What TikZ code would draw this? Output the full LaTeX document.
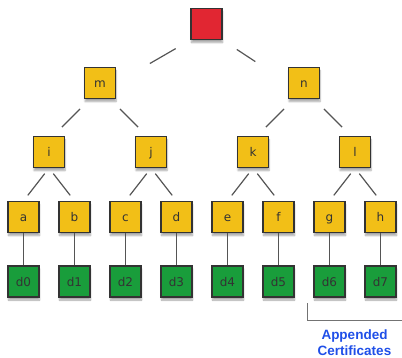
\documentclass[tikz,border=0pt]{standalone}
\usepackage{fontspec}
\newfontfamily\boxfont{DejaVu Sans}
\newfontfamily\notefont{Liberation Sans}
\usepackage{tikz}
\usetikzlibrary{shadows.blur,calc}

\definecolor{hashyellow}{HTML}{F2BF17}
\definecolor{rootred}{HTML}{E12632}
\definecolor{datagreen}{HTML}{199D3B}
\definecolor{edgegray}{HTML}{555555}
\definecolor{noteblue}{HTML}{1F4FE8}

\begin{document}
\begin{tikzpicture}[x=1pt,y=-1pt,
  box/.style={draw=black!80,line width=1.2pt,minimum size=31pt,inner sep=0pt,
    font=\boxfont\fontsize{12}{14}\selectfont,text=black!80,
    text height=11pt,text depth=2pt,
    blur shadow={shadow xshift=0.5pt,shadow yshift=-3pt,shadow blur steps=6,shadow opacity=35}},
  hashbox/.style={box,fill=hashyellow},
  rootbox/.style={box,fill=rootred},
  databox/.style={box,fill=datagreen},
  link/.style={draw=edgegray,line width=1.2pt},
  topedge/.style={link,shorten <=17pt,shorten >=39pt},
  midedge/.style={link,shorten <=14pt,shorten >=12.5pt},
  lowedge/.style={link,shorten <=7pt,shorten >=7pt},
  note/.style={align=center,inner sep=0pt,text=noteblue,
    font=\notefont\bfseries\fontsize{13.5}{15.2}\selectfont}]

\useasboundingbox (0,0) rectangle (402,357);

% Root
\node[rootbox] (top) at (206.5,24) {};

% Level 1
\node[hashbox] (m) at (100,83) {m};
\node[hashbox] (n) at (304,83) {n};

% Level 2
\node[hashbox] (i) at (49,152) {i};
\node[hashbox] (j) at (151,152) {j};
\node[hashbox] (k) at (253,152) {k};
\node[hashbox] (l) at (355,152) {l};

% Leaf hashes
\node[hashbox] (a) at (23.5,217) {a};
\node[hashbox] (b) at (74.5,217) {b};
\node[hashbox] (c) at (125.5,217) {c};
\node[hashbox] (d) at (176.5,217) {d};
\node[hashbox] (e) at (227.5,217) {e};
\node[hashbox] (f) at (278.5,217) {f};
\node[hashbox] (g) at (329.5,217) {g};
\node[hashbox] (h) at (380.5,217) {h};

% Data blocks
\node[databox] (d0) at (23.5,281.5) {d0};
\node[databox] (d1) at (74.5,281.5) {d1};
\node[databox] (d2) at (125.5,281.5) {d2};
\node[databox] (d3) at (176.5,281.5) {d3};
\node[databox] (d4) at (227.5,281.5) {d4};
\node[databox] (d5) at (278.5,281.5) {d5};
\node[databox] (d6) at (329.5,281.5) {d6};
\node[databox] (d7) at (380.5,281.5) {d7};

% Tree edges
\draw[topedge] (top.south west) -- (m.east);
\draw[topedge] (top.south east) -- (n.west);
\draw[midedge] (m.238) -- (i.76);
\draw[midedge] (m.302) -- (j.104);
\draw[midedge] (n.238) -- (k.76);
\draw[midedge] (n.302) -- (l.104);
\draw[lowedge] (i.south) -- (a.north);
\draw[lowedge] (i.south) -- (b.north);
\draw[lowedge] (j.south) -- (c.north);
\draw[lowedge] (j.south) -- (d.north);
\draw[lowedge] (k.south) -- (e.north);
\draw[lowedge] (k.south) -- (f.north);
\draw[lowedge] (l.south) -- (g.north);
\draw[lowedge] (l.south) -- (h.north);

% Leaf to data
\draw[link] (a) -- (d0);
\draw[link] (b) -- (d1);
\draw[link] (c) -- (d2);
\draw[link] (d) -- (d3);
\draw[link] (e) -- (d4);
\draw[link] (f) -- (d5);
\draw[link] (g) -- (d6);
\draw[link] (h) -- (d7);

% Appended part
\coordinate (brtop) at ($(d6.south west)+(-6,5.5)$);
\coordinate (brend) at (402,320.7);
\draw[draw=black!55,line width=1.1pt] (brtop) |- (brend);
\node[note,anchor=north] (caption) at (354.5,330) {Appended\\Certificates};

\end{tikzpicture}
\end{document}
